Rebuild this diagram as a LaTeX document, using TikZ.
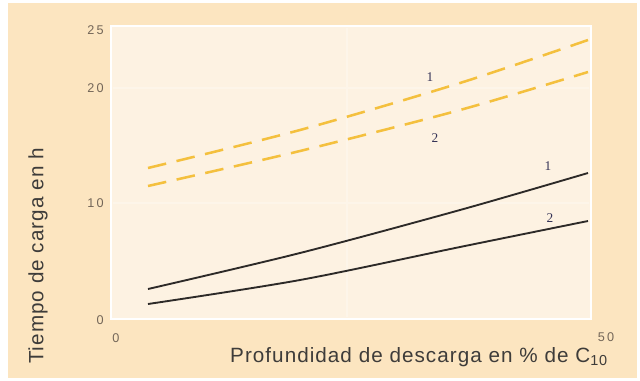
\documentclass[tikz,border=0pt]{standalone}
\usepackage{fontspec}
\newfontfamily\axisfont[LetterSpace=5]{Liberation Sans}
\newfontfamily\tickfont[LetterSpace=18]{Liberation Sans}
\newfontfamily\curvefont{Liberation Serif}
\definecolor{panelbg}{RGB}{252,229,192}
\definecolor{plotbg}{RGB}{253,242,226}
\definecolor{gridcol}{RGB}{253,245,233}
\definecolor{dashcol}{RGB}{244,192,62}
\definecolor{solidcol}{RGB}{45,42,40}
\definecolor{tickcol}{RGB}{115,102,88}
\definecolor{labelcol}{RGB}{62,60,58}
\tikzset{
    ticklabel/.style={font=\tickfont\fontsize{9.5}{10}\selectfont, text=tickcol, inner sep=0pt},
    curvelabel/.style={font=\curvefont\fontsize{10}{11}\selectfont, text=labelcol!85!blue, inner sep=0pt},
    axislabel/.style={font=\axisfont\fontsize{15.5}{17}\selectfont, text=labelcol, inner sep=0pt},
    chargedash/.style={dashcol, line width=1.9pt, dash pattern=on 14pt off 8pt},
    chargesolid/.style={solidcol, line width=1.4pt},
}
\begin{document}
\begin{tikzpicture}[x=0.75pt, y=-0.75pt]
    \useasboundingbox (0,0) rectangle (640,380);
    \fill[panelbg] (8,3) rectangle (637,378);
    \draw[white, line width=2pt, fill=plotbg] (111,26) rectangle (591,319);
    
    % faint grid
    \draw[gridcol, line width=1pt] (113,88) -- (589,88);
    \draw[gridcol, line width=1pt] (113,203) -- (589,203);
    \draw[gridcol, line width=1pt] (347,28) -- (347,317);
    
    \foreach \v/\py in {25/30, 20/88, 10/203, 0/320} {
        \node[ticklabel, anchor=east] (y\v) at (104,\py) {\v};
    }
    \node[ticklabel] (x0) at (116,338) {0};
    \node[ticklabel] (x50) at (606,337) {50};
    
    \draw[chargedash] plot[smooth] coordinates {(148,168) (300,130) (460,83) (588,40)};
    \draw[chargedash] plot[smooth] coordinates {(148,186) (300,151) (460,110) (588,72)};
    \draw[chargesolid] plot[smooth] coordinates {(148,289) (300,253) (460,210) (588,173)};
    \draw[chargesolid] plot[smooth] coordinates {(148,304) (300,280) (460,247) (588,221)};
    
    \node[curvelabel] (d1) at (430,77) {1};
    \node[curvelabel] (d2) at (435,138) {2};
    \node[curvelabel] (s1) at (548,166) {1};
    \node[curvelabel] (s2) at (550,218) {2};
    
    \node[axislabel, rotate=90] (ylab) at (38,256) {Tiempo de carga en h};
    \node[axislabel] (xlab) at (419,357) {Profundidad de descarga en \% de C\textsubscript{10}};
\end{tikzpicture}
\end{document}
